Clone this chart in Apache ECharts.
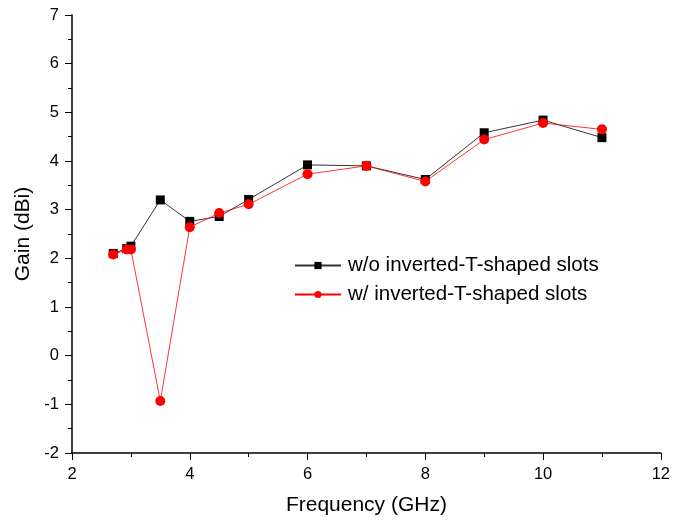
<!DOCTYPE html>
<html>
<head>
<meta charset="utf-8">
<script src="https://cdn.jsdelivr.net/npm/echarts@6/dist/echarts.min.js"></script>
<style>
  html, body { margin: 0; padding: 0; background: #fff; }
  #chart { width: 673px; height: 524px; }
</style>
</head>
<body>
<div id="chart"></div>
<script>
// frequency points (GHz)
var freq = [2.7, 2.93, 3.0, 3.5, 4.0, 4.5, 5.0, 6.0, 7.0, 8.0, 9.0, 10.0, 11.0]
// gain without slots (dBi)
var gainWithout = [2.1, 2.2, 2.25, 3.2, 2.76, 2.86, 3.21, 3.92, 3.9, 3.62, 4.58, 4.84, 4.48]
// gain with slots (dBi)
var gainWith = [2.08, 2.18, 2.18, -0.93, 2.64, 2.93, 3.11, 3.73, 3.9, 3.58, 4.44, 4.78, 4.65]

var seriesNames = ['w/o inverted-T-shaped slots', 'w/ inverted-T-shaped slots']

function pairs(xs, ys) {
  return xs.map(function (x, i) { return [x, ys[i]] })
}

var font = 'Liberation Sans, Arial, sans-serif'
var chart = echarts.init(document.getElementById('chart'))

chart.setOption({
  animation: false,
  grid: { left: 72, right: 12, top: 15, bottom: 71 },
  legend: {
    orient: 'vertical',
    left: 289,
    top: 250,
    itemWidth: 46,
    itemHeight: 9,
    itemGap: 8,
    textStyle: { fontFamily: font, fontSize: 20.5, lineHeight: 21, color: '#000', padding: [0, 0, 0, 2] },
    data: seriesNames
  },
  xAxis: {
    type: 'value',
    min: 2,
    max: 12,
    interval: 2,
    name: 'Frequency (GHz)',
    nameLocation: 'middle',
    nameGap: 42,
    nameTextStyle: { fontFamily: font, fontSize: 21, color: '#000' },
    axisLine: { onZero: false, lineStyle: { color: '#000', width: 1.5 } },
    axisTick: { length: 7, lineStyle: { color: '#000' } },
    minorTick: { show: true, splitNumber: 2, length: 4, lineStyle: { color: '#000' } },
    axisLabel: { fontFamily: font, fontSize: 16.5, color: '#000', margin: 13 },
    splitLine: { show: false }
  },
  yAxis: {
    type: 'value',
    min: -2,
    max: 7,
    interval: 1,
    name: 'Gain (dBi)',
    nameLocation: 'middle',
    nameGap: 36,
    nameTextStyle: { fontFamily: font, fontSize: 21, color: '#000' },
    axisLine: { show: true, onZero: false, lineStyle: { color: '#000', width: 1.5 } },
    axisTick: { show: true, length: 7, lineStyle: { color: '#000' } },
    minorTick: { show: true, splitNumber: 2, length: 4, lineStyle: { color: '#000' } },
    axisLabel: { fontFamily: font, fontSize: 16.5, color: '#000', margin: 13 },
    splitLine: { show: false }
  },
  series: [{
    name: seriesNames[0],
    type: 'line',
    data: pairs(freq, gainWithout),
    symbol: 'rect',
    symbolSize: 9,
    itemStyle: { color: '#000' },
    lineStyle: { color: '#333', width: 1 }
  }, {
    name: seriesNames[1],
    type: 'line',
    data: pairs(freq, gainWith),
    symbol: 'circle',
    symbolSize: 10,
    itemStyle: { color: '#f00' },
    lineStyle: { color: '#f00', width: 0.8 }
  }]
})
</script>
</body>
</html>
